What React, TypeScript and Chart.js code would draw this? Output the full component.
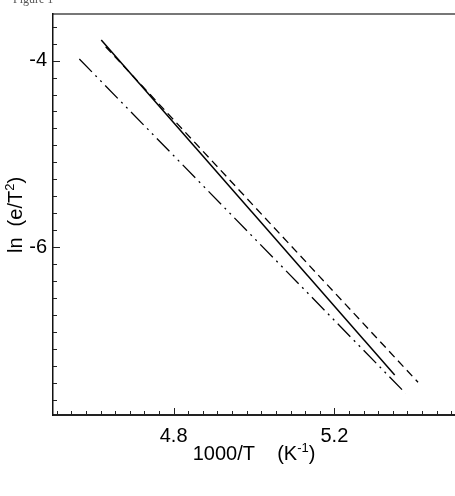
import React, { useEffect, useRef } from "react";
import { Chart, registerables } from "chart.js";

Chart.register(...registerables);

// ---- data ----
const solidX = [4.62, 5.35];
const solidY = [-3.78, -7.37];
const dashedX = [4.631, 5.408];
const dashedY = [-3.851, -7.449];
const dashDotX = [4.5655, 5.377];
const dashDotY = [-3.9825, -7.567];

const xMajorTicks = [4.8, 5.2];
const xMajorLabels = ["4.8", "5.2"];
const yMajorTicks = [-4, -6];
const yMajorLabels = ["-4", "-6"];
const minorPerMajor = 10;
const xRange = [4.5, 5.5];
const yRange = [-7.8, -3.5];

const xTitleParts = [
  { t: "1000/T    (K", sup: false },
  { t: "-1", sup: true },
  { t: ")", sup: false },
];
const yTitleParts = [
  { t: "ln  (e/T", sup: false },
  { t: "2", sup: true },
  { t: ")", sup: false },
];
const figureLabel = "Figure 1";

const FAMILY = '"Liberation Sans", Arial, Helvetica, sans-serif';

type TickItem = { value: number; major: boolean; label: string };

function buildTicks(majors: number[], labels: string[], min: number, max: number): TickItem[] {
  const step = Math.abs(majors[1] - majors[0]) / (minorPerMajor + 1);
  const start = majors[0];
  const out: TickItem[] = [];
  const kMin = Math.ceil((min - start) / step - 1e-9);
  const kMax = Math.floor((max - start) / step + 1e-9);
  for (let k = kMin; k <= kMax; k++) {
    const v = start + k * step;
    if (v <= min + 1e-9 || v >= max - 1e-9) continue;
    let label = "";
    let major = false;
    majors.forEach((m, i) => {
      if (Math.abs(m - v) < 1e-6) {
        label = labels[i];
        major = true;
      }
    });
    out.push({ value: v, major, label });
  }
  return out;
}

const xTicks = buildTicks(xMajorTicks, xMajorLabels, xRange[0], xRange[1]);
const yTicks = buildTicks(yMajorTicks, yMajorLabels, yRange[0], yRange[1]);

function toPoints(xs: number[], ys: number[]) {
  return xs.map((x, i) => ({ x, y: ys[i] }));
}

function drawRich(ctx: CanvasRenderingContext2D, parts: { t: string; sup: boolean }[], cx: number, baseline: number) {
  const big = `20px ${FAMILY}`;
  const small = `13px ${FAMILY}`;
  let total = 0;
  const widths = parts.map((p) => {
    ctx.font = p.sup ? small : big;
    const w = ctx.measureText(p.t).width;
    total += w;
    return w;
  });
  let x = cx - total / 2;
  ctx.textAlign = "left";
  ctx.textBaseline = "alphabetic";
  parts.forEach((p, i) => {
    ctx.font = p.sup ? small : big;
    ctx.fillText(p.t, x, p.sup ? baseline - 8 : baseline);
    x += widths[i];
  });
}

const inwardTicks = {
  id: "inwardTicks",
  afterDatasetsDraw(chart: any) {
    const ctx = chart.ctx as CanvasRenderingContext2D;
    const ca = chart.chartArea;
    const xs = chart.scales.x;
    const ys = chart.scales.y;
    ctx.save();
    ctx.strokeStyle = "#222";
    ctx.lineWidth = 1;
    xTicks.forEach((t) => {
      const px = Math.round(xs.getPixelForValue(t.value)) + 0.5;
      const len = t.major ? 7 : 4;
      ctx.beginPath();
      ctx.moveTo(px, ca.bottom);
      ctx.lineTo(px, ca.bottom - len);
      ctx.stroke();
    });
    yTicks.forEach((t) => {
      const py = Math.round(ys.getPixelForValue(t.value)) + 0.5;
      const len = t.major ? 7 : 4;
      ctx.beginPath();
      ctx.moveTo(ca.left, py);
      ctx.lineTo(ca.left + len, py);
      ctx.stroke();
    });
    ctx.restore();
  },
};

const axisTitles = {
  id: "axisTitles",
  afterDraw(chart: any) {
    const ctx = chart.ctx as CanvasRenderingContext2D;
    const ca = chart.chartArea;
    ctx.save();
    ctx.fillStyle = "#000";
    drawRich(ctx, xTitleParts, (ca.left + ca.right) / 2, ca.bottom + 44.5);
    ctx.translate(22, (ca.top + ca.bottom) / 2 + 0.5);
    ctx.rotate(-Math.PI / 2);
    drawRich(ctx, yTitleParts, 0, 0);
    ctx.restore();
  },
};

function zeroPad(s: any) {
  s.paddingLeft = 0;
  s.paddingRight = 0;
  s.paddingTop = 0;
  s.paddingBottom = 0;
}

export default function App() {
  const canvasRef = useRef<HTMLCanvasElement | null>(null);

  useEffect(() => {
    const canvas = canvasRef.current;
    if (!canvas) return;
    const chart = new Chart(canvas, {
      type: "scatter",
      data: {
        datasets: [
          {
            label: "solid",
            data: toPoints(solidX, solidY),
            showLine: true,
            borderColor: "#000",
            borderWidth: 1.5,
            pointRadius: 0,
          },
          {
            label: "dashed",
            data: toPoints(dashedX, dashedY),
            showLine: true,
            borderColor: "#000",
            borderWidth: 1.3,
            borderDash: [8, 5],
            pointRadius: 0,
          },
          {
            label: "dashdotdot",
            data: toPoints(dashDotX, dashDotY),
            showLine: true,
            borderColor: "#000",
            borderWidth: 1.3,
            borderDash: [18, 5, 2, 5, 2, 5],
            pointRadius: 0,
          },
        ],
      },
      options: {
        responsive: false,
        devicePixelRatio: 1,
        animation: false,
        layout: { padding: 0 },
        plugins: {
          legend: { display: false },
          tooltip: { enabled: false },
          title: { display: false },
        },
        scales: {
          x: {
            type: "linear",
            position: "bottom",
            min: xRange[0],
            max: xRange[1],
            afterBuildTicks: (s: any) => {
              s.ticks = xTicks.map((t) => ({ value: t.value, major: false }));
            },
            afterFit: (s: any) => {
              s.height = 81;
              zeroPad(s);
            },
            ticks: {
              autoSkip: false,
              maxRotation: 0,
              minRotation: 0,
              padding: 9,
              color: "#000",
              font: { family: FAMILY, size: 20 },
              callback: (_v: any, i: number) => (xTicks[i] ? xTicks[i].label : ""),
            },
            grid: { display: true, drawOnChartArea: false, drawTicks: false },
            border: { display: true, color: "#222", width: 2 },
          },
          x2: {
            type: "linear",
            position: "top",
            min: xRange[0],
            max: xRange[1],
            afterFit: (s: any) => {
              s.height = 14;
              zeroPad(s);
            },
            ticks: { display: false },
            grid: { display: true, drawOnChartArea: false, drawTicks: false },
            border: { display: true, color: "#777", width: 2 },
          },
          y: {
            type: "linear",
            position: "left",
            min: yRange[0],
            max: yRange[1],
            afterBuildTicks: (s: any) => {
              s.ticks = yTicks.map((t) => ({ value: t.value, major: false }));
            },
            afterFit: (s: any) => {
              s.width = 53;
              zeroPad(s);
            },
            ticks: {
              autoSkip: false,
              padding: 6,
              color: "#000",
              font: { family: FAMILY, size: 20 },
              callback: (_v: any, i: number) => (yTicks[i] ? yTicks[i].label : ""),
            },
            grid: { display: true, drawOnChartArea: false, drawTicks: false },
            border: { display: true, color: "#111", width: 1.5 },
          },
        },
      } as any,
      plugins: [inwardTicks, axisTitles],
    });
    return () => chart.destroy();
  }, []);

  return (
    <div style={{ position: "absolute", left: 0, top: 0, width: 455, height: 496, background: "#fff", overflow: "hidden" }}>
      <canvas ref={canvasRef} width={455} height={496} style={{ display: "block" }} />
      <div
        style={{
          position: "absolute",
          left: 13,
          top: -7,
          font: '12px "Liberation Serif", "Times New Roman", serif',
          lineHeight: "12px",
          color: "#555",
          whiteSpace: "nowrap",
        }}
      >
        {figureLabel}
      </div>
    </div>
  );
}
